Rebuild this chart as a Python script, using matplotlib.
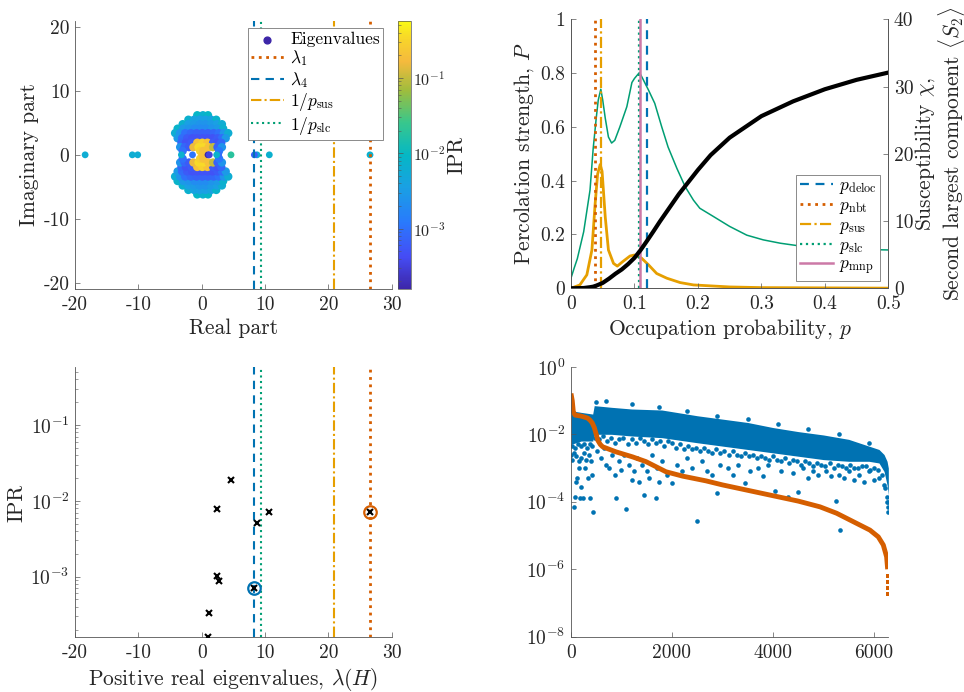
import numpy as np
import matplotlib
matplotlib.use('Agg')
import matplotlib.pyplot as plt
from matplotlib.colors import LinearSegmentedColormap, LogNorm

# ---------------- data ----------------
# real eigenvalues of H (imaginary part 0) and their IPR
real_eigs = [-18.4, -10.95, -10.1, -3.2, -1.45, 0.0, 1.0, 1.21, 2.47, 2.68, 2.37,
             4.63, 8.74, 8.32, 10.68, 26.58]
real_ipr = [6e-3, 6e-3, 6e-3, 7e-3, 1.1e-3, 0.2, 1.58e-4, 3.28e-4, 1.03e-3, 8.85e-4,
            7.73e-3, 1.88e-2, 5.05e-3, 7.0e-4, 7.05e-3, 7.05e-3]

# complex bulk (upper half plane; conjugates are added below)
cloud_re = [-0.7, 0.2, 1.0,
            -2.1, -1.2, -0.3, 0.6, 1.5, 2.3,
            -3.0, -2.1, -1.2, -0.3, 0.6, 1.5, 2.4, 3.2,
            -3.8, -2.9, -2.0, -1.1, -0.2, 0.7, 1.6, 2.5, 3.4,
            -4.2, -3.4, -2.6, -1.7, -0.8, 0.1, 1.0, 1.9, 2.7, 3.5, 4.2,
            -3.8, -3.1, -2.3, -1.5, -0.7, 0.1, 0.9, 1.7, 2.5, 3.2, 3.8,
            -3.2, -2.5, -1.6, -0.7, 0.1, 0.9, 1.8, 2.5, 3.1,
            -3.4, -2.7, -2.0, -1.3, -0.5, 0.3, 1.1, 1.8, 2.5, 3.2,
            -3.0, -0.25, 0.25, 2.75]
cloud_im = [6.2] * 3 + [5.5] * 6 + [4.8] * 8 + [4.1] * 9 + [3.4] * 11 + [2.6] * 11 + \
           [1.9] * 9 + [1.2] * 10 + [0.6] * 4
cloud_ipr = [9e-3, 7e-3, 9e-3,
             7e-3, 4e-3, 3.5e-3, 3.5e-3, 4e-3, 8e-3,
             7e-3, 3.5e-3, 3e-3, 2.5e-3, 2.5e-3, 3e-3, 3.5e-3, 6e-3,
             8e-3, 3e-3, 2.5e-3, 2e-3, 2e-3, 2e-3, 2.5e-3, 3e-3, 7e-3,
             6e-3, 2.5e-3, 1e-3, 8e-4, 7e-4, 7e-4, 7e-4, 8e-4, 1e-3, 2.5e-3, 6e-3,
             3e-3, 9e-4, 6e-4, 5e-4, 5e-4, 5e-4, 5e-4, 5e-4, 6e-4, 9e-4, 3e-3,
             8e-4, 5e-4, 6e-4, 0.2, 0.3, 0.2, 6e-4, 5e-4, 8e-4,
             2.5e-3, 8e-4, 6e-4, 0.15, 0.35, 0.35, 0.2, 0.1, 7e-4, 2.5e-3,
             1e-3, 0.3, 0.2, 1.2e-3]

lam1, lam4, inv_psus, inv_pslc = 26.58, 8.32, 20.9, 9.3
p_deloc, p_nbt, p_sus, p_slc, p_mnp = 0.1202, 0.0376, 0.0478, 0.1075, 0.108

# percolation strength P(p)
p_P = [0, 0.02, 0.03, 0.035, 0.04, 0.05, 0.06, 0.07, 0.08, 0.09, 0.1, 0.11, 0.12, 0.13,
       0.14, 0.15, 0.16, 0.17, 0.18, 0.2, 0.22, 0.25, 0.3, 0.35, 0.4, 0.45, 0.5]
P_vals = [0, 0.001, 0.004, 0.006, 0.01, 0.02, 0.036, 0.054, 0.07, 0.09, 0.113, 0.143,
          0.177, 0.212, 0.248, 0.282, 0.316, 0.35, 0.38, 0.44, 0.495, 0.56, 0.64, 0.695,
          0.74, 0.775, 0.802]
# susceptibility chi(p)
p_chi = [0, 0.005, 0.01, 0.02, 0.03, 0.035, 0.04, 0.043, 0.047, 0.05, 0.054, 0.059, 0.064,
         0.069, 0.077, 0.088, 0.096, 0.1, 0.108, 0.114, 0.122, 0.132, 0.143, 0.153, 0.167,
         0.18, 0.193, 0.203, 0.224, 0.25, 0.277, 0.303, 0.33, 0.36, 0.4, 0.45, 0.5]
chi_vals = [1.5, 3.0, 4.4, 8.4, 14.6, 20.8, 25.5, 28.0, 29.6, 28.0, 25.3, 22.5, 21.6,
            22.0, 24.0, 27.0, 30.6, 31.2, 32.1, 31.0, 29.5, 27.5, 24.0, 21.0, 17.8, 15.1,
            13.1, 11.9, 10.7, 9.2, 7.9, 7.2, 6.7, 6.3, 6.0, 5.8, 5.7]
# second largest component <S2>(p)
p_s2 = [0, 0.014, 0.025, 0.033, 0.038, 0.042, 0.046, 0.049, 0.054, 0.059, 0.067, 0.073,
        0.082, 0.093, 0.1, 0.111, 0.122, 0.135, 0.151, 0.172, 0.193, 0.25, 0.3, 0.5]
s2_vals = [0, 0.5, 2.0, 5.7, 12.5, 17.0, 18.4, 17.4, 10.6, 5.7, 3.7, 3.3, 4.0, 4.8,
           4.95, 4.5, 3.5, 2.2, 1.5, 0.85, 0.5, 0.2, 0.1, 0.02]

# sorted eigenvector IPR (log10)
n_sorted = [0, 25, 46, 80, 200, 330, 376, 420, 462, 500, 528, 580, 627, 891, 1221, 1485,
            1683, 1881, 2211, 2673, 3000, 3500, 4000, 4500, 4931, 5261, 5591, 5921, 6086,
            6185, 6251, 6272]
ipr_sorted_log = [-0.79, -1.0, -1.33, -1.43, -1.46, -1.52, -1.58, -1.66, -1.8, -2.0,
                  -2.17, -2.3, -2.37, -2.52, -2.67, -2.81, -2.96, -3.11, -3.24, -3.38,
                  -3.5, -3.66, -3.82, -3.98, -4.15, -4.34, -4.59, -4.84, -5.04, -5.28,
                  -5.63, -6.0]
n_tail = [6276, 6279, 6281, 6283]
ipr_tail_log = [-6.2, -6.38, -6.55, -6.72]

# IPR of each eigenvector in original order: dense core (log10 bounds) + scattered ones
n_band = [0, 200, 430, 460, 800, 1200, 1800, 2500, 3000, 3500, 4000, 4500, 5000, 5500,
          5900, 6100, 6200, 6260, 6285]
band_top_log = [-1.3, -1.35, -1.4, -1.15, -1.2, -1.25, -1.28, -1.45, -1.55, -1.65, -1.8,
                -1.92, -2.02, -2.15, -2.35, -2.45, -2.6, -2.8, -3.0]
band_bot_log = [-2.3, -2.2, -2.2, -2.0, -2.0, -2.05, -2.1, -2.25, -2.35, -2.45, -2.55,
                -2.65, -2.75, -2.8, -2.8, -2.85, -3.1, -3.5, -3.8]
n_sparse = [10, 30, 60, 100, 150, 200, 250, 300, 350, 400, 120, 90, 160, 280, 330, 200,
            230, 180, 60, 80, 440, 380, 420,
            520, 600, 650, 700, 760, 820, 880, 900, 950, 1000, 1050, 1090, 1150, 1200,
            1250, 1300, 1350, 1400, 1445, 1500,
            1550, 1600, 1676, 1700, 1750, 1800, 1900, 2000, 2100, 2200, 2300, 2400, 2488,
            2600, 2700, 2800, 2884, 2950,
            3100, 3200, 3300, 3445, 3550, 3700, 3800, 3900, 4040, 4150, 4300, 4400, 4500,
            4600, 4700, 4800, 4900,
            5050, 5150, 5240, 5300, 5326, 5400, 5500, 5600, 5700, 5800, 5900, 6000, 6100,
            6200, 6284, 6285, 6260,
            20, 70, 130, 190, 260, 310, 370, 410,
            480, 560, 640, 720, 800, 880, 960, 1040, 1120, 1200, 1280, 1360, 1440, 1520,
            1600, 1680, 1760, 1840, 1920, 2000, 2080, 2160, 2240, 2320, 2400, 2480, 2560,
            2640, 2720, 2800, 2880, 2960, 3040, 3120, 3200, 3280, 3360, 3440, 3520, 3600,
            3680, 3760, 3840, 3920, 4000, 4080, 4160, 4240, 4320, 4400, 4480, 4560, 4640,
            4720, 4800, 4880, 4960, 5040, 5120, 5200, 5280, 5360, 5440, 5520, 5600, 5680,
            5760, 5840, 5920, 6000, 6080, 6150, 6220, 6250, 6270,
            500, 700, 1200, 1750, 2300, 2900, 3500, 4100, 4700, 5300, 5900]
ipr_sparse_log = [-2.6, -2.75, -2.55, -2.65, -2.8, -2.7, -2.55, -2.75, -2.6, -2.8, -3.3,
                  -3.4, -3.0, -3.0, -3.3, -3.55, -3.9, -3.9, -4.15, -3.85, -4.3, -3.9, -3.2,
                  -2.5, -2.7, -2.4, -2.9, -3.0, -2.6, -3.2, -3.9, -2.8, -3.05, -2.6, -4.2,
                  -2.9, -3.35, -3.1, -2.7, -3.4, -2.9, -3.8, -3.1,
                  -3.3, -2.6, -3.9, -3.0, -3.4, -2.8, -3.2, -3.45, -2.9, -3.1, -2.7, -3.0,
                  -4.57, -2.8, -3.1, -3.2, -3.75, -2.9,
                  -3.0, -3.2, -2.9, -3.43, -3.1, -3.0, -3.25, -2.9, -3.67, -3.1, -3.85,
                  -3.15, -3.72, -3.0, -3.3, -3.1, -3.2,
                  -3.1, -3.25, -3.98, -3.2, -4.84, -3.3, -3.1, -3.35, -3.2, -3.4, -3.1,
                  -3.35, -3.3, -3.5, -4.15, -4.3, -4.0,
                  -2.35, -2.4, -2.3, -2.35, -2.3, -2.4, -2.3, -2.35,
                  -2.1, -2.15, -2.05, -2.2, -2.1, -2.25, -2.15, -2.1, -2.3, -2.15, -2.25,
                  -2.1, -2.2, -2.3, -2.15, -2.25, -2.2, -2.35, -2.2, -2.25, -2.4, -2.3,
                  -2.45, -2.35, -2.45, -2.4, -2.5, -2.4, -2.5, -2.55, -2.45, -2.55, -2.5,
                  -2.6, -2.5, -2.6, -2.65, -2.55, -2.65, -2.6, -2.7, -2.65, -2.7, -2.75,
                  -2.65, -2.75, -2.8, -2.7, -2.85, -2.75, -2.8, -2.9, -2.8, -2.85, -2.95,
                  -2.85, -2.9, -2.95, -2.85, -3.0, -2.9, -2.95, -3.0, -2.9, -3.0, -3.0,
                  -2.95, -2.95, -3.05, -3.0, -3.05, -3.2, -3.6, -3.85, -4.0,
                  -1.05, -1.0, -1.1, -1.2, -1.3, -1.45, -1.55, -1.7, -1.85, -2.0, -2.25]

# ---------------- style ----------------
plt.rcParams.update({
    'font.family': 'serif',
    'font.serif': ['cmr10'],
    'mathtext.fontset': 'cm',
    'axes.unicode_minus': False,
    'axes.formatter.use_mathtext': False,
    'font.size': 14,
    'xtick.direction': 'in',
    'ytick.direction': 'in',
    'xtick.major.size': 3.5,
    'ytick.major.size': 3.5,
    'xtick.minor.size': 2,
    'ytick.minor.size': 2,
    'xtick.major.width': 0.5,
    'ytick.major.width': 0.5,
    'xtick.minor.width': 0.4,
    'ytick.minor.width': 0.4,
    'xtick.major.pad': 5,
    'ytick.major.pad': 4,
    'xtick.color': '#555555',
    'ytick.color': '#555555',
    'xtick.labelcolor': '#262626',
    'ytick.labelcolor': '#262626',
    'xtick.labelsize': 14,
    'ytick.labelsize': 14,
    'axes.edgecolor': '#555555',
    'axes.linewidth': 0.6,
    'axes.labelcolor': '#262626',
    'axes.labelsize': 15.5,
    'axes.labelpad': 3,
    'legend.fontsize': 12.5,
})

BLUE, VERM, ORANGE, GREEN, PINK = '#0072B2', '#D55E00', '#E69F00', '#009E73', '#CC79A7'

parula = LinearSegmentedColormap.from_list('parula', [
    (0.00, (0.24, 0.15, 0.66)), (0.12, (0.27, 0.30, 0.96)), (0.25, (0.16, 0.48, 0.99)),
    (0.38, (0.10, 0.63, 0.89)), (0.50, (0.02, 0.72, 0.77)), (0.62, (0.22, 0.78, 0.55)),
    (0.74, (0.62, 0.74, 0.24)), (0.85, (0.96, 0.73, 0.24)), (0.93, (0.97, 0.83, 0.17)),
    (1.00, (0.98, 0.98, 0.08))])
norm = LogNorm(vmin=1.58e-4, vmax=0.575)

fig = plt.figure(figsize=(9.64, 6.92), dpi=100)
ax1 = fig.add_axes([0.0778, 0.5824, 0.3285, 0.3877])
cax = fig.add_axes([0.4126, 0.5824, 0.0135, 0.3877])
ax2 = fig.add_axes([0.5923, 0.5834, 0.3292, 0.3887])
ax3 = fig.add_axes([0.0778, 0.0790, 0.3285, 0.390])
ax4 = fig.add_axes([0.5923, 0.0799, 0.3292, 0.390])

for a in (ax1, ax3, ax4):
    a.spines['top'].set_visible(False)
    a.spines['right'].set_visible(False)

leg_kw = dict(fancybox=False, edgecolor='#777777', framealpha=1, borderaxespad=0,
              handlelength=1.9, labelspacing=0.08, borderpad=0.2, handletextpad=0.35)

# ---------------- panel 1: spectrum ----------------
c_re = np.array(cloud_re + cloud_re)
c_im = np.array(cloud_im + [-v for v in cloud_im])
c_ipr = np.array(cloud_ipr + cloud_ipr)
ax1.scatter(c_re, c_im, c=c_ipr, cmap=parula, norm=norm, s=36, linewidths=0)
sc = ax1.scatter(real_eigs, np.zeros(len(real_eigs)), c=real_ipr, cmap=parula,
                 norm=norm, s=24, linewidths=0)
ax1.scatter([], [], s=24, color=parula(0.0), label='Eigenvalues')
ax1.axvline(lam1, color=VERM, ls=':', lw=2, label=r'$\lambda_1$')
ax1.axvline(lam4, color=BLUE, ls=(0, (4, 3)), lw=1.5, label=r'$\lambda_4$')
ax1.axvline(inv_psus, color=ORANGE, ls=(0, (5, 1.5, 1, 1.5)), lw=1.5,
            label=r'$1/p_{\rm sus}$')
ax1.axvline(inv_pslc, color=GREEN, ls=':', lw=1.5, label=r'$1/p_{\rm slc}$')
ax1.set_xlim(-20, 30)
ax1.set_ylim(-21, 21)
ax1.set_xticks([-20, -10, 0, 10, 20, 30])
ax1.set_yticks([-20, -10, 0, 10, 20])
ax1.set_xlabel('Real part')
ax1.set_ylabel('Imaginary part')
leg = ax1.legend(loc='upper right', bbox_to_anchor=(0.9735, 0.9717), **leg_kw)
leg.get_frame().set_linewidth(0.6)

cb = fig.colorbar(sc, cax=cax)
cb.set_ticks([1e-3, 1e-2, 1e-1])
cb.outline.set_linewidth(0.5)
cb.outline.set_edgecolor('#555555')
cax.tick_params(which='both', direction='in', left=True, right=False, labelsize=11.5,
                pad=1.5)
cb.set_label('IPR', labelpad=1)

# ---------------- panel 2: percolation ----------------
ax2.spines['top'].set_visible(False)
axr = ax2.twinx()
axr.spines['top'].set_visible(False)
ax2.axvline(p_deloc, color=BLUE, ls=(0, (4, 3)), lw=1.6, label=r'$p_{\rm deloc}$')
ax2.axvline(p_nbt, color=VERM, ls=':', lw=2, label=r'$p_{\rm nbt}$')
ax2.axvline(p_sus, color=ORANGE, ls=(0, (5, 1.5, 1, 1.5)), lw=1.6, label=r'$p_{\rm sus}$')
ax2.axvline(p_slc, color=GREEN, ls=':', lw=1.6, label=r'$p_{\rm slc}$')
ax2.axvline(p_mnp, color=PINK, ls='-', lw=1.8, label=r'$p_{\rm mnp}$')
axr.plot(p_chi, chi_vals, color=GREEN, lw=1.1)
axr.plot(p_s2, s2_vals, color=ORANGE, lw=2)
ax2.plot(p_P, P_vals, color='black', lw=3, zorder=5)
ax2.set_zorder(axr.get_zorder() + 1)
ax2.patch.set_visible(False)
ax2.set_xlim(0, 0.5)
ax2.set_ylim(0, 1)
axr.set_ylim(0, 40)
ax2.set_xticks([0, 0.1, 0.2, 0.3, 0.4, 0.5])
ax2.set_xticklabels(['0', '0.1', '0.2', '0.3', '0.4', '0.5'])
ax2.set_yticks([0, 0.2, 0.4, 0.6, 0.8, 1])
ax2.set_yticklabels(['0', '0.2', '0.4', '0.6', '0.8', '1'])
axr.set_yticks([0, 10, 20, 30, 40])
axr.tick_params(direction='in')
ax2.set_xlabel('Occupation probability, $p$')
ax2.set_ylabel('Percolation strength, $P$')
axr.set_ylabel('Susceptibility $\\chi$,\nSecond largest component $\\langle S_2\\rangle$',
               rotation=90, multialignment='center', labelpad=0, linespacing=0.95)
leg2 = ax2.legend(loc='lower right', bbox_to_anchor=(0.974, 0.028), **leg_kw)
leg2.get_frame().set_linewidth(0.6)
leg2.set_zorder(10)

# ---------------- panel 3: IPR of positive real eigenvalues ----------------
pos = [(e, v) for e, v in zip(real_eigs, real_ipr) if e > 0]
ax3.axvline(lam4, color=BLUE, ls=(0, (4, 3)), lw=1.5)
ax3.axvline(inv_pslc, color=GREEN, ls=':', lw=1.5)
ax3.axvline(inv_psus, color=ORANGE, ls=(0, (5, 1.5, 1, 1.5)), lw=1.5)
ax3.axvline(lam1, color=VERM, ls=':', lw=2)
ax3.plot([e for e, v in pos], [v for e, v in pos], 'x', color='black', ms=5, mew=1.5,
         zorder=5)
ipr_of = dict(pos)
ax3.plot([lam1], [ipr_of[lam1]], 'o', mfc='none', mec=VERM, ms=9, mew=1.6, zorder=4)
ax3.plot([lam4], [ipr_of[lam4]], 'o', mfc='none', mec=BLUE, ms=9, mew=1.6, zorder=4)
ax3.set_yscale('log')
ax3.set_xlim(-20, 30)
ax3.set_ylim(1.58e-4, 0.575)
ax3.set_xticks([-20, -10, 0, 10, 20, 30])
ax3.set_yticks([1e-3, 1e-2, 1e-1])
ax3.set_xlabel(r'Positive real eigenvalues, $\lambda(H)$')
ax3.set_ylabel('IPR')

# ---------------- panel 4: sorted IPR ----------------
ax4.fill_between(n_band, [10 ** v for v in band_top_log], [10 ** v for v in band_bot_log],
                 color=BLUE, lw=0)
ax4.scatter(n_sparse, [10 ** v for v in ipr_sparse_log], s=11, color=BLUE, linewidths=0)
ax4.plot(n_sorted, [10 ** v for v in ipr_sorted_log], color=VERM, lw=3.5,
         solid_capstyle='butt')
ax4.plot(n_tail, [10 ** v for v in ipr_tail_log], 's', color=VERM, ms=2.5, mew=0)
ax4.set_yscale('log')
ax4.set_xlim(0, 6285)
ax4.set_ylim(1e-8, 1)
ax4.set_xticks([0, 2000, 4000, 6000])
ax4.set_yticks([1e-8, 1e-6, 1e-4, 1e-2, 1])

fig.savefig('out.png', dpi=100)
